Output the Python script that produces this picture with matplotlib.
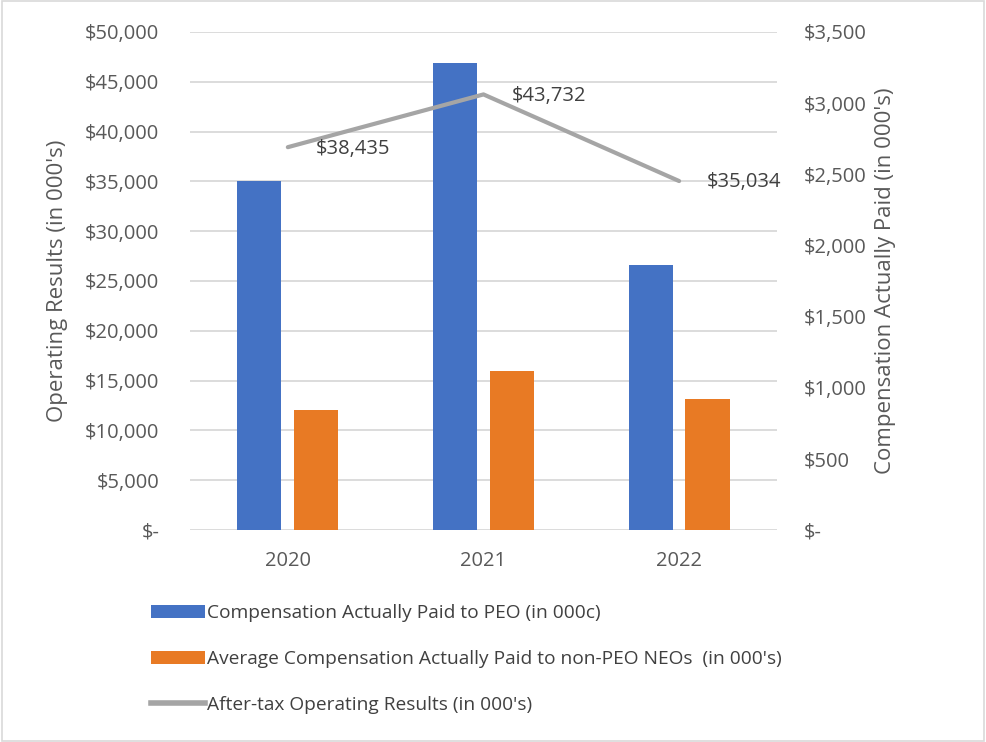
import numpy as np
import matplotlib.pyplot as plt
from matplotlib.patches import Patch, Rectangle
from matplotlib.lines import Line2D
from matplotlib.ticker import FuncFormatter, MultipleLocator

# ---- data ----
years = ["2020", "2021", "2022"]
peo_cap = [2453, 3282, 1862]          # Compensation Actually Paid to PEO (000s)
neo_cap = [843, 1117, 921]            # Average CAP to non-PEO NEOs (000s)
operating = [38435, 43732, 35034]     # After-tax Operating Results (000s)

BLUE = "#4472C4"
ORANGE = "#E87A24"
GRAY = "#A5A5A5"
TXT = "#595959"

plt.rcParams["font.family"] = ["Open Sans", "DejaVu Sans"]

fig = plt.figure(figsize=(9.86, 7.42), dpi=100)
ax = fig.add_axes([0.1927, 0.2857, 0.788 - 0.1927, 0.9569 - 0.2857])
ax2 = ax.twinx()   # bars, right axis
ax3 = ax.twinx()   # line, left-axis units, drawn on top

x = np.arange(len(years))
w = 0.225
off = 0.145

# gridlines follow the left axis
ax.set_ylim(0, 50000)
ax.yaxis.set_major_locator(MultipleLocator(5000))
ax.grid(axis="y", color="#D9D9D9", linewidth=1.3)
ax.set_xlim(-0.5, 2.5)
ax.set_xticks(x)
ax.set_xticklabels(years)

# bars on right axis
ax2.bar(x - off, peo_cap, w, color=BLUE)
ax2.bar(x + off, neo_cap, w, color=ORANGE)
ax2.set_ylim(0, 3500)
ax2.yaxis.set_major_locator(MultipleLocator(500))

# line in left-axis units
ax3.plot(x, operating, color=GRAY, linewidth=3, solid_capstyle="round")
for xi, v in zip(x, operating):
    ax3.annotate(f"${v:,.0f}", (xi, v), xytext=(20, -1), textcoords="offset points",
                 ha="left", va="center", fontsize=14.5, color="#404040")
ax3.set_ylim(0, 50000)
ax3.set_yticks([])


def money(v, pos):
    return "$-" if v == 0 else f"${v:,.0f}"


ax.yaxis.set_major_formatter(FuncFormatter(money))
ax2.yaxis.set_major_formatter(FuncFormatter(money))

for a in (ax, ax2, ax3):
    for s in a.spines.values():
        s.set_visible(False)
    a.tick_params(length=0, labelsize=14.5, colors=TXT)
ax.tick_params(axis="y", pad=22)
ax2.tick_params(axis="y", pad=19)
ax.tick_params(axis="x", pad=15)

ax.set_ylabel("Operating Results (in 000's)", fontsize=16, color=TXT, labelpad=12)
ax2.set_ylabel("Compensation Actually Paid (in 000's)", fontsize=16, color=TXT, labelpad=6)

# legend below the chart
handles = [
    Patch(facecolor=BLUE),
    Patch(facecolor=ORANGE),
    Line2D([0], [0], color=GRAY, linewidth=4),
]
labels = [
    "Compensation Actually Paid to PEO (in 000c)",
    "Average Compensation Actually Paid to non-PEO NEOs  (in 000's)",
    "After-tax Operating Results (in 000's)",
]
fig.legend(handles, labels, loc="upper left", bbox_to_anchor=(0.145, 0.196),
           frameon=False, fontsize=13.8, labelcolor="#404040",
           handlelength=2.85, handleheight=0.65, handletextpad=0.08,
           labelspacing=1.45, borderaxespad=0)

# light border around the figure
fig.patches.append(Rectangle((0.002, 0.002), 0.996, 0.996, transform=fig.transFigure,
                             fill=False, edgecolor="#D9D9D9", linewidth=1.2))

fig.savefig("out.png", dpi=100)
